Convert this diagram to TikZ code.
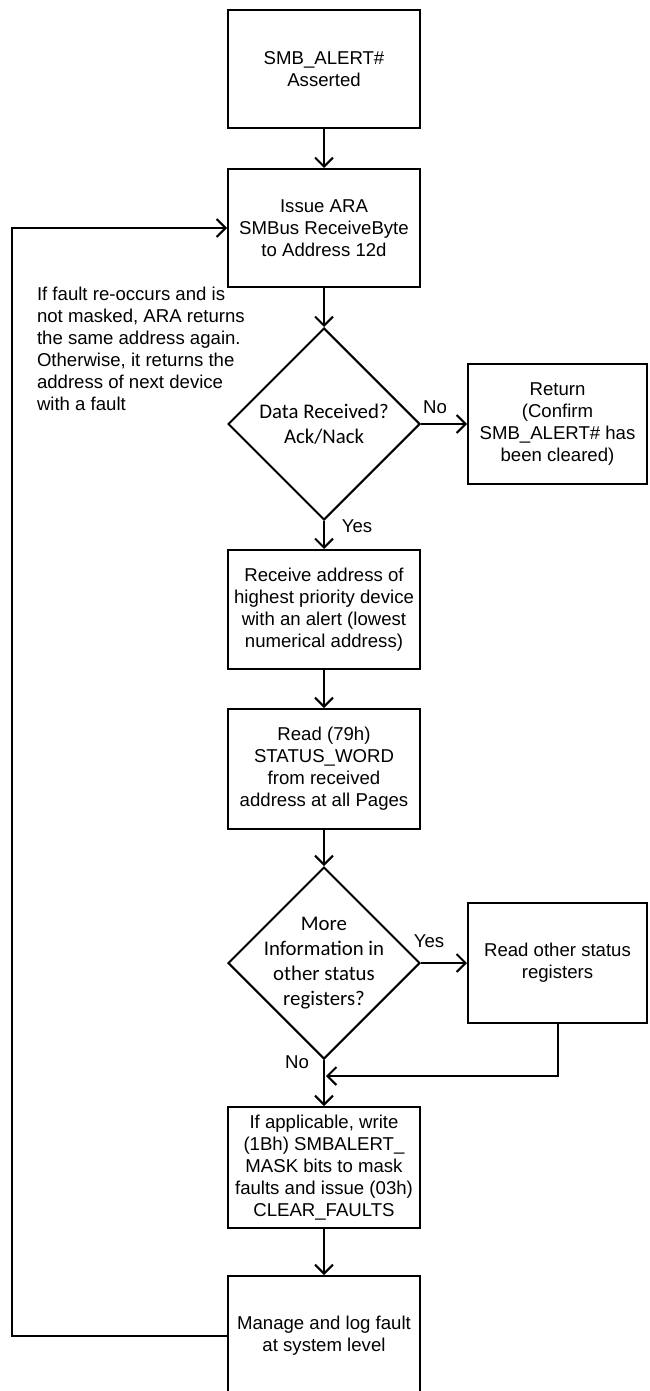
\documentclass[tikz,border=0pt]{standalone}
\usepackage{fontspec}
\setmainfont{Liberation Sans}
\newfontfamily\calibri{Carlito}
\usetikzlibrary{arrows.meta,shapes.geometric}
\tikzset{>={Straight Barb[width=9pt,length=4.5pt,line width=1pt]}}

\begin{document}
\begin{tikzpicture}[x=0.5pt,y=-0.5pt,line width=1pt,font=\fontsize{9.3}{11}\selectfont]
\tikzstyle{b}=[rectangle,draw,align=center,minimum width=96pt,minimum height=59pt,inner sep=1pt]
\tikzstyle{r}=[rectangle,draw,align=center,minimum width=89.5pt,minimum height=60pt,inner sep=1pt]
\tikzstyle{d}=[diamond,draw,aspect=1,minimum width=96pt,minimum height=96pt,inner sep=0]
\tikzstyle{dt}=[align=center,font=\calibri\fontsize{10.4}{12.4}\selectfont]

    \clip (0,0) rectangle (649,1391);

    \node[b] (1) at (324,69){SMB\_ALERT\#\\Asserted};
    \node[b] (2) at (324,228){Issue ARA\\SMBus ReceiveByte\\to Address 12d};
    \node[d, label={[dt]center:Data Received?\\Ack/Nack}] (3) at (324,424){};
    \node[r] (4) at (557.5,424){Return\\(Confirm\\SMB\_ALERT\# has\\been cleared)};
    \node[b, minimum height=59.5pt] (5) at (324,609.5){Receive address of\\highest priority device\\with an alert (lowest\\numerical address)};
    \node[b, minimum height=60pt] (6) at (324,769){Read (79h)\\STATUS\_WORD\\from received\\address at all Pages};
    \node[d, label={[dt, font=\calibri\fontsize{10.4}{12.6}\selectfont]center:More\\Information in\\other status\\registers?}] (7) at (324,963){};
    \node[r] (8) at (557.5,963){Read other status\\registers};
    \node[b, minimum height=60.5pt] (9) at (324,1167.5){If applicable, write\\(1Bh) SMBALERT\_\\MASK bits to mask\\faults and issue (03h)\\CLEAR\_FAULTS};
    \node[b, minimum height=60pt] (10) at (324,1336){Manage and log fault\\at system level};

    \node[align=left, anchor=west, inner sep=0] (n) at (36,349){If fault re-occurs and is\\not masked, ARA returns\\the same address again.\\Otherwise, it returns the\\address of next device\\with a fault};

    \node (no1) at (435,407){No};
    \node (yes1) at (357,526){Yes};
    \node (yes2) at (429,941){Yes};
    \node (no2) at (297,1062){No};

    \coordinate (j) at (326,1076);

    \draw[->] (1) edge (2);
    \draw[->] (2) edge (3);
    \draw[->] (3) edge (4);
    \draw[->] (3) edge (5);
    \draw[->] (5) edge (6);
    \draw[->] (6) edge (7);
    \draw[->] (7) edge (8);
    \draw[->] (7) edge (9);
    \draw[->] (8.south) |- (j);
    \draw[->] (9) edge (10);
    \draw[->] (10.west) -- ++(-215,0) |- (2.west);

\end{tikzpicture}
\end{document}
